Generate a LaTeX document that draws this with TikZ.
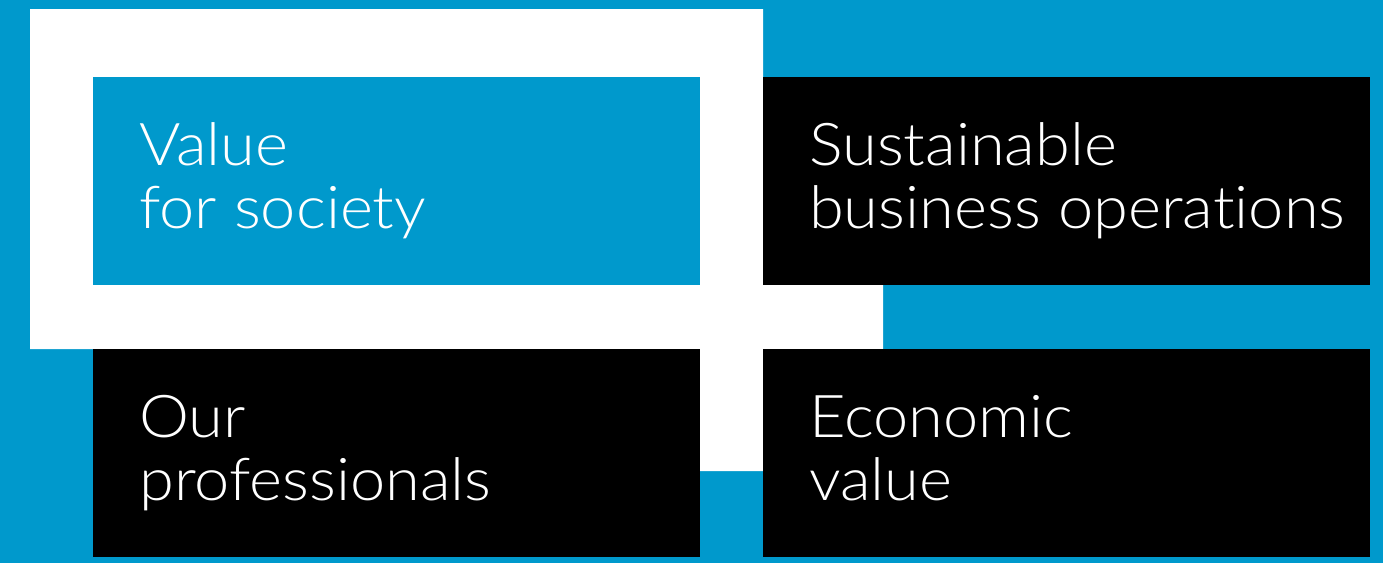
\documentclass[tikz,border=0pt]{standalone}
\usepackage{fontspec}
\setmainfont{Lato Light}[FakeStretch=1.07, Ligatures=NoCommon]
\definecolor{bgblue}{HTML}{0099CC}
\begin{document}
\begin{tikzpicture}[x=1pt,y=-1pt,
  box/.style={draw=none, inner sep=0, anchor=north west},
  lbl/.style={anchor=base west, inner sep=0, text=white, font=\fontsize{59}{63}\selectfont}]
\fill[bgblue] (0,0) rectangle (1383,563);
\useasboundingbox (0,0) rectangle (1383,563);
\fill[white] (30,9) -- (763,9) -- (763,285) -- (883,285) -- (883,349) -- (763,349) -- (763,471) -- (700,471) -- (700,349) -- (30,349) -- cycle;
\node[box, fill=bgblue, minimum width=607, minimum height=208] (vs) at (93,77) {};
\node[box, fill=black, minimum width=607, minimum height=208] (sb) at (763,77) {};
\node[box, fill=black, minimum width=607, minimum height=208] (op) at (93,349) {};
\node[box, fill=black, minimum width=607, minimum height=208] (ev) at (763,349) {};
\node[lbl] (vs1) at (139,165) {Value};
\node[lbl] (vs2) at (139,228) {for society};
\node[lbl] (sb1) at (809,165) {Sustainable};
\node[lbl] (sb2) at (809,228) {business operations};
\node[lbl] (op1) at (139,437) {Our};
\node[lbl] (op2) at (139,500) {professionals};
\node[lbl] (ev1) at (809,437) {Economic};
\node[lbl] (ev2) at (809,500) {value};
\end{tikzpicture}
\end{document}
